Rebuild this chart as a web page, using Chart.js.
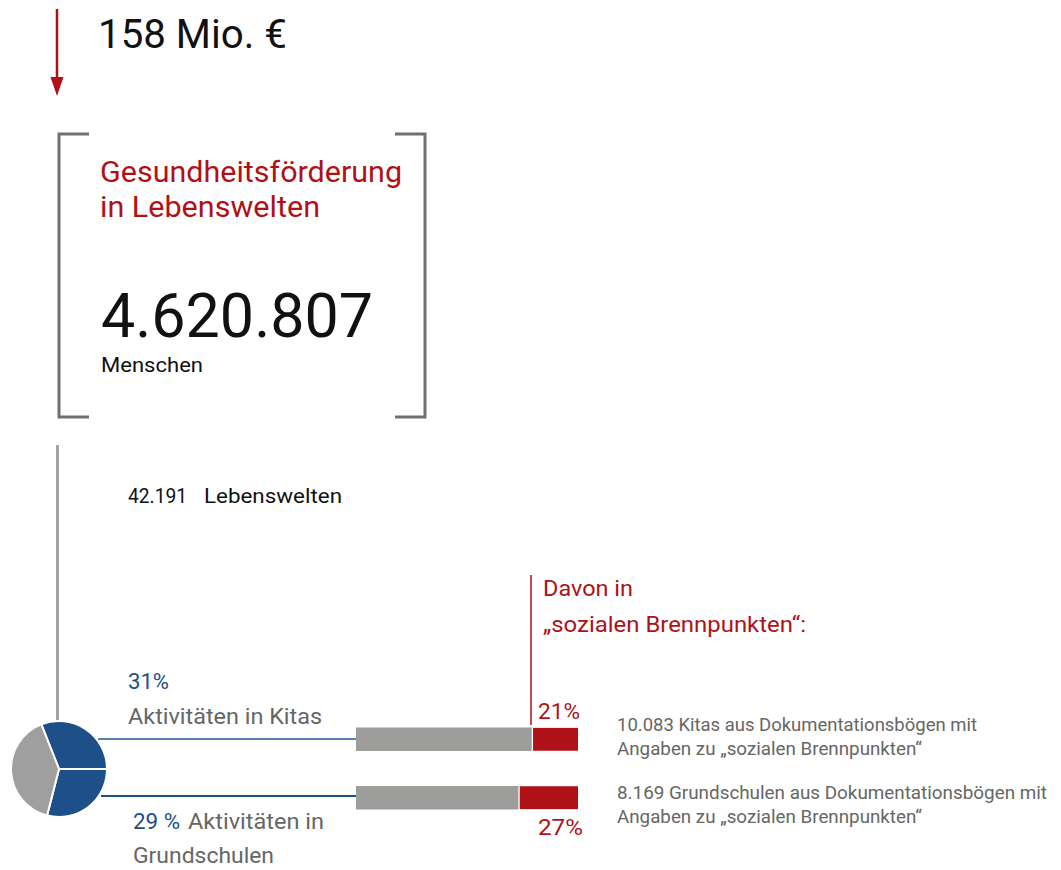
<!DOCTYPE html>
<html>
<head>
<meta charset="utf-8">
<script src="https://cdn.jsdelivr.net/npm/chart.js@4"></script>
<style>
  body { margin: 0; background: #fff; }
  #page { position: relative; width: 1061px; height: 870px; overflow: hidden; }
  svg text { font-family: Roboto, "Noto Sans", sans-serif; }
  .red { fill: #b01116; }
  .blue { fill: #1d4f87; }
  .grey { fill: #666; }
  .blk { fill: #111; }
  canvas { position: absolute; }
</style>
</head>
<body>
<div id="page">
  <svg width="1061" height="870" style="position:absolute;left:0;top:0">
    <!-- arrow -->
    <line x1="57" y1="9" x2="57" y2="80" stroke="#b01116" stroke-width="2.5"/>
    <polygon points="50.5,77 63.5,77 57,96" fill="#b01116"/>
    <!-- bracket -->
    <polyline points="89,134 59,134 59,417 89,417" fill="none" stroke="#707070" stroke-width="3"/>
    <polyline points="395,134 425,134 425,417 395,417" fill="none" stroke="#707070" stroke-width="3"/>
    <!-- grey stem -->
    <line x1="57.5" y1="445" x2="57.5" y2="721" stroke="#a3a3a3" stroke-width="3"/>
    <!-- connectors -->
    <line x1="98" y1="739" x2="356" y2="739" stroke="#5a80ad" stroke-width="2"/>
    <line x1="101" y1="796" x2="358" y2="796" stroke="#1d4f87" stroke-width="2"/>
    <!-- red divider -->
    <line x1="531" y1="575" x2="531" y2="725" stroke="#b01116" stroke-width="1.5"/>

    <text class="blk" x="98" y="48" font-size="41" textLength="189" lengthAdjust="spacingAndGlyphs">158 Mio. €</text>

    <text class="red" x="100" y="182" font-size="30" textLength="302" lengthAdjust="spacingAndGlyphs">Gesundheitsförderung</text>
    <text class="red" x="100" y="217" font-size="30" textLength="220" lengthAdjust="spacingAndGlyphs">in Lebenswelten</text>
    <text class="blk" x="101" y="337" font-size="62" textLength="272" lengthAdjust="spacingAndGlyphs">4.620.807</text>
    <text class="blk" x="101" y="372" font-size="20.5" textLength="102" lengthAdjust="spacingAndGlyphs">Menschen</text>

    <text class="blk" x="128" y="503" font-size="20" textLength="59" lengthAdjust="spacingAndGlyphs">42.191</text>
    <text class="blk" x="204" y="503" font-size="20" textLength="138" lengthAdjust="spacingAndGlyphs">Lebenswelten</text>

    <text class="red" x="543" y="596" font-size="21.5" textLength="90" lengthAdjust="spacingAndGlyphs">Davon in</text>
    <text class="red" x="543" y="632" font-size="21.5" textLength="263" lengthAdjust="spacingAndGlyphs">„sozialen Brennpunkten“:</text>

    <text class="blue" x="128" y="689" font-size="21.5" textLength="41" lengthAdjust="spacingAndGlyphs">31%</text>
    <text class="grey" x="128" y="724" font-size="21.5" textLength="194" lengthAdjust="spacingAndGlyphs">Aktivitäten in Kitas</text>
    <text class="blue" x="133" y="829" font-size="21.5" textLength="47" lengthAdjust="spacingAndGlyphs">29 %</text>
    <text class="grey" x="188" y="829" font-size="21.5" textLength="136" lengthAdjust="spacingAndGlyphs">Aktivitäten in</text>
    <text class="grey" x="133" y="863" font-size="21.5" textLength="141" lengthAdjust="spacingAndGlyphs">Grundschulen</text>

    <text class="red" x="538" y="719" font-size="21.5" textLength="42" lengthAdjust="spacingAndGlyphs">21%</text>
    <text class="red" x="538" y="835" font-size="21.5" textLength="45" lengthAdjust="spacingAndGlyphs">27%</text>

    <text class="grey" x="617" y="731" font-size="18.5" textLength="360" lengthAdjust="spacingAndGlyphs">10.083 Kitas aus Dokumentationsbögen mit</text>
    <text class="grey" x="617" y="755" font-size="18.5" textLength="305" lengthAdjust="spacingAndGlyphs">Angaben zu „sozialen Brennpunkten“</text>
    <text class="grey" x="617" y="799" font-size="18.5" textLength="430" lengthAdjust="spacingAndGlyphs">8.169 Grundschulen aus Dokumentationsbögen mit</text>
    <text class="grey" x="617" y="823" font-size="18.5" textLength="305" lengthAdjust="spacingAndGlyphs">Angaben zu „sozialen Brennpunkten“</text>
  </svg>

  <canvas id="pie" width="98" height="98" style="left:10px;top:720px"></canvas>
  <canvas id="bars" width="222" height="117" style="left:356px;top:710px"></canvas>
</div>

<script>
// Anteile der Aktivitäten (Prozent)
var pieLabels = ["Aktivitäten in Kitas", "Aktivitäten in Grundschulen", "Sonstige Lebenswelten"];
var pieValues = [31, 29, 40];
var pieColors = ["#1d5088", "#1d5088", "#9f9f9f"];

// Davon in sozialen Brennpunkten
var barLabels = ["Kitas", "Grundschulen"];
var restValues = [79, 73];
var brennpunktValues = [21, 27];

new Chart(document.getElementById("pie"), {
  type: "pie",
  data: {
    labels: pieLabels,
    datasets: [{
      data: pieValues,
      backgroundColor: pieColors,
      borderColor: "#fff",
      borderWidth: 2
    }]
  },
  options: {
    responsive: false,
    animation: false,
    rotation: -21.6,
    layout: { padding: 0 },
    plugins: { legend: { display: false }, tooltip: { enabled: false } }
  }
});

new Chart(document.getElementById("bars"), {
  type: "bar",
  data: {
    labels: barLabels,
    datasets: [
      { data: restValues, backgroundColor: "#9d9d9c", barThickness: 23 },
      {
        data: brennpunktValues,
        backgroundColor: "#b01116",
        borderColor: "#fff",
        borderWidth: { left: 2, right: 0, top: 0, bottom: 0 },
        borderSkipped: false,
        barThickness: 23
      }
    ]
  },
  options: {
    indexAxis: "y",
    responsive: false,
    animation: false,
    layout: { padding: 0 },
    scales: {
      x: { stacked: true, min: 0, max: 100, display: false },
      y: { stacked: true, display: false }
    },
    plugins: { legend: { display: false }, tooltip: { enabled: false } }
  }
});
</script>
</body>
</html>
